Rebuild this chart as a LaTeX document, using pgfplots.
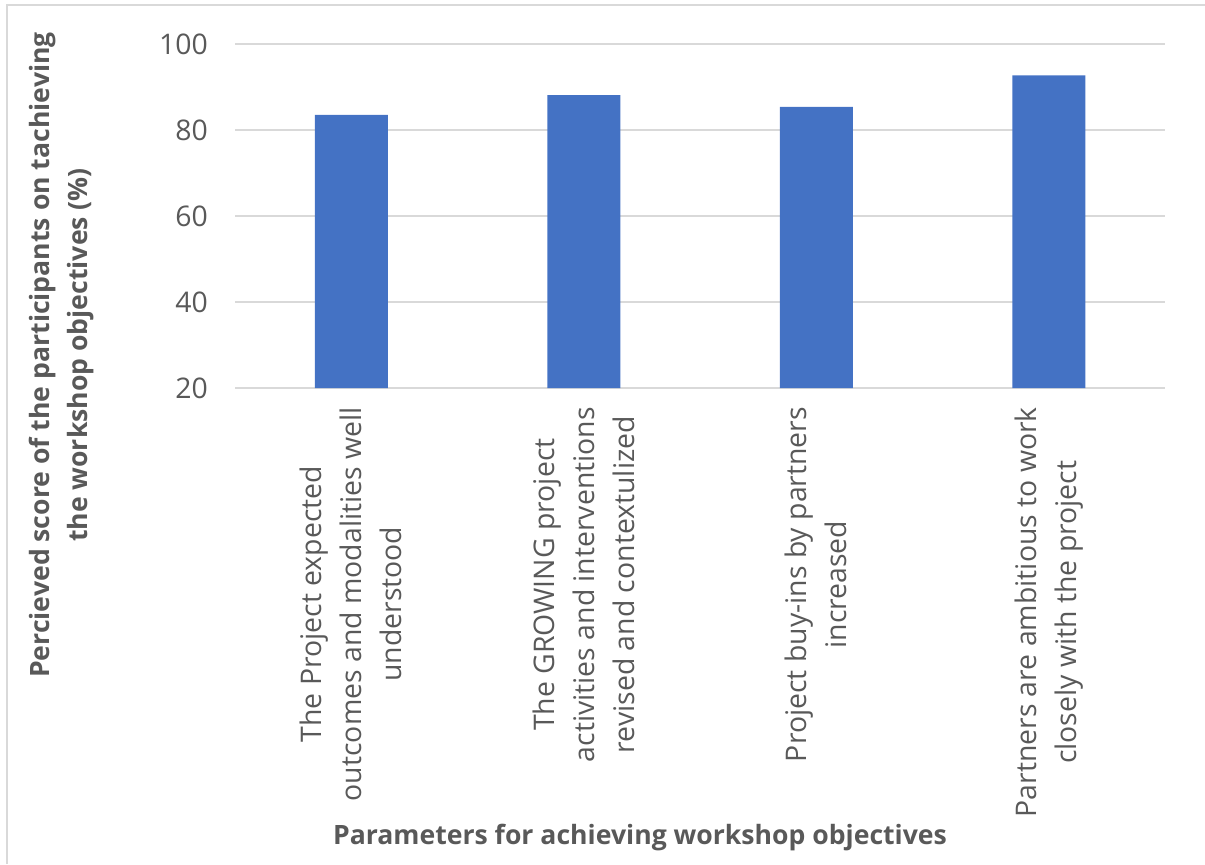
\documentclass[border=0pt]{standalone}
\usepackage{pgfplots}
\pgfplotsset{compat=1.18}
\usepackage{fontspec}
\setmainfont{Open Sans}
\definecolor{barblue}{HTML}{4472C4}
\definecolor{gridgray}{HTML}{D9D9D9}
\definecolor{txtgray}{HTML}{595959}
\definecolor{framegray}{HTML}{D9D9D9}
\begin{document}
\begin{tikzpicture}
\begin{axis}[
  scale only axis,
  width=465pt, height=172pt,
  at={(117.5pt,-194pt)}, anchor=south west,
  ybar, bar width=36.5pt,
  xmin=-0.5, xmax=3.5,
  ymin=20, ymax=100,
  ytick={20,40,60,80,100},
  xtick=data,
  xticklabels={{The Project expected\\outcomes and modalities well\\understood},
               {The GROWING project\\activities and interventions\\revised and contextulized},
               {Project buy-ins by partners\\increased},
               {Partners are ambitious to work\\closely with the project}},
  /pgf/number format/assume math mode=true,
  axis lines*=left,
  y axis line style={draw=none},
  x axis line style={draw=gridgray, line width=0.8pt},
  major tick length=0pt,
  ymajorgrids, grid style={draw=gridgray, line width=0.8pt},
  tick label style={font=\fontsize{14.2pt}{20pt}\selectfont, text=txtgray},
  yticklabel style={xshift=-10pt},
  xticklabel style={rotate=90, anchor=east, align=center, xshift=-6pt},
  xlabel={\textbf{Parameters for achieving workshop objectives}},
  ylabel={\textbf{Percieved score of the participants on tachieving}\\\textbf{the workshop objectives (\%)}},
  label style={font=\fontsize{13.3pt}{19pt}\selectfont, text=txtgray},
  xlabel style={at={(axis description cs:0.4355,-1.308)}, anchor=center},
  ylabel style={at={(axis description cs:-0.187,0.096)}, anchor=center, rotate=0, align=center},
]
\addplot[fill=barblue, draw=none] coordinates {(0,83.5) (1,88.1) (2,85.4) (3,92.7)};
\end{axis}
\draw[framegray, line width=1pt] (3.5pt,-432pt) -- (3.5pt,-2.5pt) -- (602.5pt,-2.5pt);
\pgfresetboundingbox
\path[use as bounding box] (0,0) rectangle (602.5pt,-432pt);
\end{tikzpicture}
\end{document}
